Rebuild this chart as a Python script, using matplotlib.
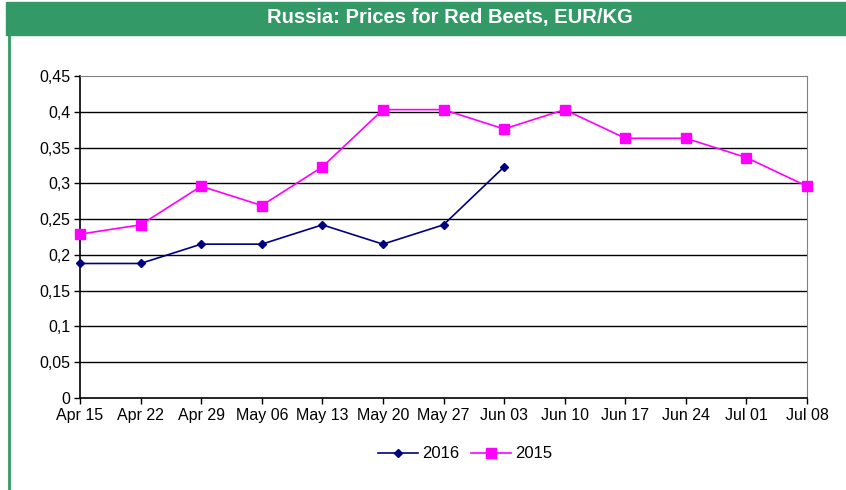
import matplotlib.pyplot as plt
from matplotlib.patches import Rectangle
from matplotlib.lines import Line2D

plt.rcParams['font.family'] = ['Liberation Sans', 'DejaVu Sans']

weeks = ['Apr 15', 'Apr 22', 'Apr 29', 'May 06', 'May 13', 'May 20', 'May 27',
         'Jun 03', 'Jun 10', 'Jun 17', 'Jun 24', 'Jul 01', 'Jul 08']
prices_2016 = [0.188, 0.188, 0.215, 0.215, 0.242, 0.215, 0.242, 0.323]
prices_2015 = [0.229, 0.242, 0.296, 0.269, 0.323, 0.403, 0.403, 0.376,
               0.403, 0.363, 0.363, 0.336, 0.296]
y_ticks = [0, 0.05, 0.1, 0.15, 0.2, 0.25, 0.3, 0.35, 0.4, 0.45]

fig = plt.figure(figsize=(8.46, 4.9), dpi=100)

# green title bar and left border
green = '#339966'
fig.patches.append(Rectangle((6 / 846, 1 - 35 / 490), 1, 33 / 490,
                             transform=fig.transFigure, color=green, zorder=0))
fig.add_artist(Line2D([9 / 846, 9 / 846], [0, 1 - 35 / 490], transform=fig.transFigure,
                      color=green, lw=2))
fig.text(450 / 846, 1 - 18 / 490, 'Russia: Prices for Red Beets, EUR/KG', color='white',
         fontsize=14.5, fontweight='bold', ha='center', va='center')

ax = fig.add_axes([80 / 846, 1 - 398 / 490, (807 - 80) / 846, (398 - 76) / 490])

x = list(range(len(weeks)))
ax.plot(x[:len(prices_2016)], prices_2016, color='#000080', marker='D', markersize=4.5,
        lw=1.2, label='2016', zorder=3, clip_on=False)
ax.plot(x, prices_2015, color='#FF00FF', marker='s', markersize=6.5,
        lw=1.2, label='2015', zorder=3, clip_on=False)

ax.set_xlim(0, len(weeks) - 1)
ax.set_ylim(0, 0.45)
ax.set_xticks(x)
ax.set_xticklabels(weeks, fontsize=11.5)
ax.set_yticks(y_ticks)
ax.set_yticklabels([('%g' % v).replace('.', ',') for v in y_ticks], fontsize=11.5)

for v in y_ticks[1:-1]:
    ax.axhline(v, color='black', lw=1, zorder=1)

ax.spines['top'].set_color('#808080')
ax.spines['right'].set_color('#808080')
ax.spines['left'].set_linewidth(1.2)
ax.spines['bottom'].set_linewidth(1.2)
ax.tick_params(direction='out', length=4, width=1, pad=3)

ax.legend(loc='center', bbox_to_anchor=((465 - 80) / 727, -56 / 322), ncol=2, frameon=False,
          fontsize=12, handlelength=2.4, columnspacing=0.7, handletextpad=0.25)

fig.savefig('out.png', dpi=100)
